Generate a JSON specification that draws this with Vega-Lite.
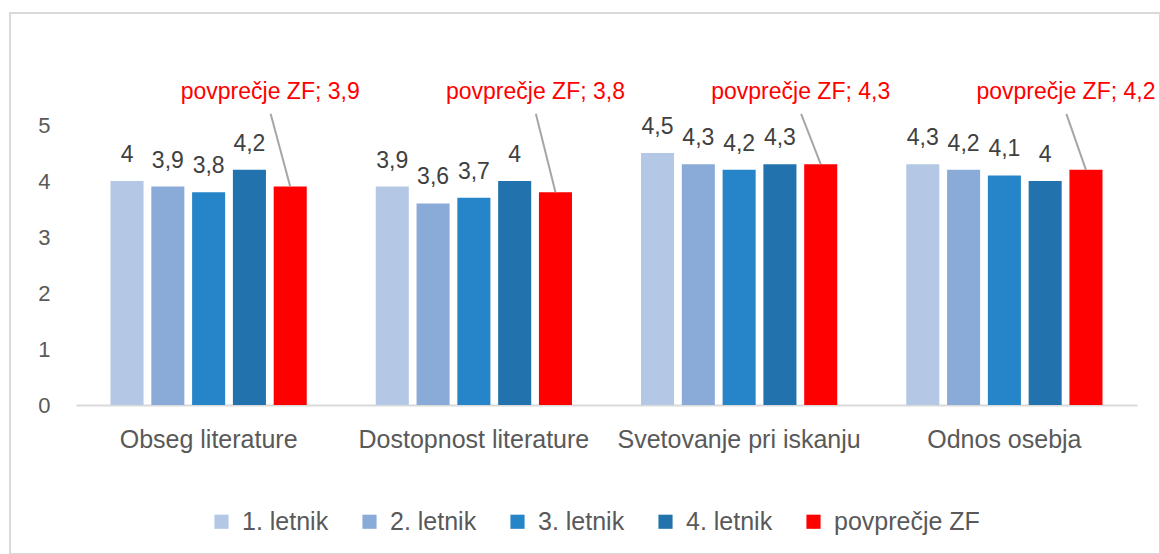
{
  "$schema": "https://vega.github.io/schema/vega-lite/v6.json",
  "width": 1150,
  "height": 541,
  "autosize": {"type": "none"},
  "padding": {"left": 10, "top": 13, "right": 0, "bottom": 0},
  "background": "white",
  "config": {
    "view": {"stroke": "#d9d9d9", "strokeWidth": 2},
    "font": "Liberation Sans"
  },
  "data": {
    "values": [
      {"cat": "Obseg literature", "series": "1. letnik", "value": 4.0},
      {"cat": "Obseg literature", "series": "2. letnik", "value": 3.9},
      {"cat": "Obseg literature", "series": "3. letnik", "value": 3.8},
      {"cat": "Obseg literature", "series": "4. letnik", "value": 4.2},
      {"cat": "Obseg literature", "series": "povprečje ZF", "value": 3.9},
      {"cat": "Dostopnost literature", "series": "1. letnik", "value": 3.9},
      {"cat": "Dostopnost literature", "series": "2. letnik", "value": 3.6},
      {"cat": "Dostopnost literature", "series": "3. letnik", "value": 3.7},
      {"cat": "Dostopnost literature", "series": "4. letnik", "value": 4.0},
      {"cat": "Dostopnost literature", "series": "povprečje ZF", "value": 3.8},
      {"cat": "Svetovanje pri iskanju", "series": "1. letnik", "value": 4.5},
      {"cat": "Svetovanje pri iskanju", "series": "2. letnik", "value": 4.3},
      {"cat": "Svetovanje pri iskanju", "series": "3. letnik", "value": 4.2},
      {"cat": "Svetovanje pri iskanju", "series": "4. letnik", "value": 4.3},
      {"cat": "Svetovanje pri iskanju", "series": "povprečje ZF", "value": 4.3},
      {"cat": "Odnos osebja", "series": "1. letnik", "value": 4.3},
      {"cat": "Odnos osebja", "series": "2. letnik", "value": 4.2},
      {"cat": "Odnos osebja", "series": "3. letnik", "value": 4.1},
      {"cat": "Odnos osebja", "series": "4. letnik", "value": 4.0},
      {"cat": "Odnos osebja", "series": "povprečje ZF", "value": 4.2}
    ]
  },
  "encoding": {
    "x": {
      "field": "cat",
      "type": "nominal",
      "sort": null,
      "scale": {"range": [66, 1127], "paddingInner": 0, "paddingOuter": 0},
      "axis": {
        "title": null,
        "labelAngle": 0,
        "ticks": false,
        "domainColor": "#d9d9d9",
        "domainWidth": 2,
        "labelFontSize": 25,
        "labelColor": "#595959",
        "labelPadding": 22,
        "labelLimit": 0,
        "offset": -149,
        "grid": false
      }
    },
    "xOffset": {
      "field": "series",
      "type": "nominal",
      "scale": {
        "domain": ["1. letnik", "2. letnik", "3. letnik", "4. letnik", "povprečje ZF"],
        "paddingInner": 0.19,
        "paddingOuter": 0.846
      }
    }
  },
  "layer": [
    {
      "mark": {"type": "bar"},
      "encoding": {
        "y": {
          "field": "value",
          "type": "quantitative",
          "scale": {"domain": [0, 5], "range": [392, 112], "nice": false},
          "axis": {
            "title": null,
            "domain": false,
            "ticks": false,
            "grid": false,
            "values": [0, 1, 2, 3, 4, 5],
            "format": "d",
            "labelFontSize": 22,
            "labelColor": "#595959",
            "labelPadding": 5,
            "offset": -45
          }
        },
        "color": {
          "field": "series",
          "type": "nominal",
          "scale": {
            "domain": ["1. letnik", "2. letnik", "3. letnik", "4. letnik", "povprečje ZF"],
            "range": ["#b4c7e5", "#8aabd7", "#2684c8", "#2272ad", "#ff0000"]
          },
          "legend": {
            "title": null,
            "orient": "none",
            "legendX": 199,
            "legendY": 496,
            "direction": "horizontal",
            "symbolType": "square",
            "symbolSize": 200,
            "symbolStrokeWidth": 0,
            "labelFontSize": 25,
            "labelColor": "#595959",
            "labelOffset": 8,
            "columnPadding": 28
          }
        }
      }
    },
    {
      "transform": [
        {"filter": "datum.series !== 'povprečje ZF'"},
        {"calculate": "replace(format(datum.value, '.1~f'), '.', ',')", "as": "lbl"}
      ],
      "mark": {"type": "text", "baseline": "alphabetic", "dy": -19, "fontSize": 23, "color": "#404040"},
      "encoding": {
        "y": {"field": "value", "type": "quantitative"},
        "text": {"field": "lbl", "type": "nominal"}
      }
    },
    {
      "transform": [
        {"filter": "datum.series === 'povprečje ZF'"}
      ],
      "mark": {"type": "rule", "color": "#a6a6a6", "strokeWidth": 2, "x2Offset": 62},
      "encoding": {
        "y": {"field": "value", "type": "quantitative"},
        "y2": {"datum": 5.2},
        "x2": {"field": "cat"}
      }
    },
    {
      "transform": [
        {"filter": "datum.series === 'povprečje ZF'"},
        {"calculate": "'povprečje ZF; ' + replace(format(datum.value, '.1~f'), '.', ',')", "as": "lbl"}
      ],
      "mark": {"type": "text", "baseline": "alphabetic", "dx": -20, "fontSize": 23, "color": "#ff0000"},
      "encoding": {
        "y": {"datum": 5.46},
        "text": {"field": "lbl", "type": "nominal"}
      }
    }
  ]
}
